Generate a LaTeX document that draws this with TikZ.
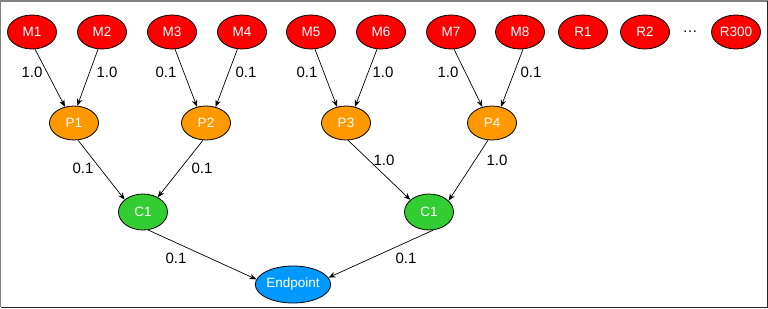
\documentclass[tikz,border=0pt]{standalone}
\usepackage{fontspec}
\setmainfont{Liberation Sans}
\usetikzlibrary{arrows.meta,shapes.geometric}
\definecolor{mred}{HTML}{FF0000}
\definecolor{porange}{HTML}{FF9900}
\definecolor{cgreen}{HTML}{33CC33}
\definecolor{eblue}{HTML}{0099FF}
\tikzset{
  nd/.style={ellipse, draw=black, line width=0.8pt, inner sep=0pt, minimum width=49pt, minimum height=34pt, text=white, font=\fontsize{13.5}{14}\selectfont},
  mnode/.style={nd, fill=mred},
  pnode/.style={nd, fill=porange},
  cnode/.style={nd, fill=cgreen},
  enode/.style={nd, fill=eblue, minimum width=70pt, minimum height=37pt},
  edge/.style={draw=black, line width=0.7pt, -{Stealth[length=7pt,width=5.5pt]}},
  lbl/.style={font=\fontsize{15}{16}\selectfont, inner sep=0pt}
}
\begin{document}
\begin{tikzpicture}[x=1pt,y=-1pt]
\useasboundingbox (0,0) rectangle (768,308);
\fill[white] (0,0) rectangle (768,308);
\draw[line width=2pt, gray] (0,307) -- (0,1) -- (768,1);
\draw[line width=1.5pt, black!85] (1,307.25) -- (767.25,307.25) -- (767.25,1);
% top row
\node[mnode] (M1) at (32,32) {M1};
\node[mnode] (M2) at (102,32) {M2};
\node[mnode] (M3) at (172,32) {M3};
\node[mnode] (M4) at (242,32) {M4};
\node[mnode] (M5) at (311,32) {M5};
\node[mnode] (M6) at (381,32) {M6};
\node[mnode] (M7) at (451,32) {M7};
\node[mnode] (M8) at (520,32) {M8};
\node[mnode] (R1) at (583,32) {R1};
\node[mnode] (R2) at (645,32) {R2};
\node[lbl] (dots) at (690,32) {\ldots};
\node[mnode] (R300) at (736,32) {R300};
% second row
\node[pnode] (P1) at (74,123) {P1};
\node[pnode] (P2) at (206,123) {P2};
\node[pnode] (P3) at (346,123) {P3};
\node[pnode] (P4) at (492,123) {P4};
% third row
\node[cnode, minimum height=36pt] (C1a) at (143,212) {C1};
\node[cnode, minimum height=36pt] (C1b) at (429,212) {C1};
% endpoint
\node[enode] (E) at (293,284.5) {Endpoint};
% edges top
\draw[edge] (M1.-80) -- (P1.119);
\draw[edge] (M2.-103) -- (P1.79);
\draw[edge] (M3.-80) -- (P2.119);
\draw[edge] (M4.-105) -- (P2.59);
\draw[edge] (M5.-77) -- (P3.119);
\draw[edge] (M6.-103) -- (P3.61);
\draw[edge] (M7.-80) -- (P4.121);
\draw[edge] (M8.-80) -- (P4.61);
% edges middle
\draw[edge] (P1.-77) -- (C1a.146);
\draw[edge] (P2.-100) -- (C1a.45);
\draw[edge] (P3.-83) -- (C1b.147);
\draw[edge] (P4.-103) -- (C1b.30);
% edges bottom
\draw[edge] (C1a.-74) -- (E.172);
\draw[edge] (C1b.-77) -- (E.11);
% labels
\node[lbl] (l1) at (32,72) {1.0};
\node[lbl] (l2) at (107,72) {1.0};
\node[lbl] (l3) at (166,72) {0.1};
\node[lbl] (l4) at (246,72) {0.1};
\node[lbl] (l5) at (307,72) {0.1};
\node[lbl] (l6) at (383,72) {1.0};
\node[lbl] (l7) at (448,72) {1.0};
\node[lbl] (l8) at (531,72) {0.1};
\node[lbl] (l9) at (83,168) {0.1};
\node[lbl] (l10) at (202,168) {0.1};
\node[lbl] (l11) at (384,160) {1.0};
\node[lbl] (l12) at (497,160) {1.0};
\node[lbl] (l13) at (176,258) {0.1};
\node[lbl] (l14) at (406,258) {0.1};
\end{tikzpicture}
\end{document}
